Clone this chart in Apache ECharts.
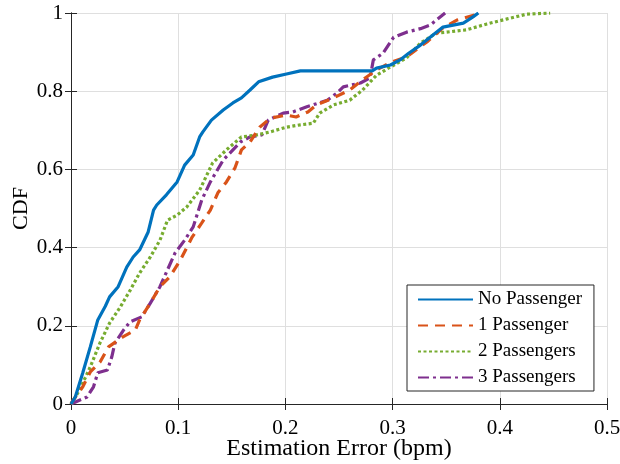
<!DOCTYPE html>
<html><head><meta charset="utf-8">
<script src="https://cdn.jsdelivr.net/npm/echarts@6/dist/echarts.min.js"></script>
<style>html,body{margin:0;padding:0;background:#fff}#c{width:620px;height:464px}</style>
</head><body><div id="c"></div>
<script>
const seriesNames = ['No Passenger', '1 Passenger', '2 Passengers', '3 Passengers'];
const xTicks = [0, 0.1, 0.2, 0.3, 0.4, 0.5];
const yTicks = [0, 0.2, 0.4, 0.6, 0.8, 1];

const noPassenger = [
  [0,0],[0.004,0.018],[0.011,0.08],[0.018,0.146],[0.025,0.215],[0.032,0.25],[0.036,0.274],
  [0.044,0.30],[0.052,0.35],[0.058,0.376],[0.064,0.394],[0.072,0.44],[0.077,0.496],[0.08,0.509],
  [0.089,0.535],[0.099,0.568],[0.106,0.611],[0.114,0.637],[0.12,0.683],[0.123,0.696],[0.131,0.726],
  [0.142,0.752],[0.151,0.77],[0.159,0.783],[0.167,0.803],[0.175,0.824],[0.188,0.836],[0.201,0.844],
  [0.214,0.852],[0.281,0.852],[0.285,0.859],[0.298,0.867],[0.307,0.88],[0.315,0.897],[0.326,0.918],
  [0.34,0.949],[0.347,0.964],[0.366,0.974],[0.375,0.99],[0.38,1.0]
];
const onePassenger = [
  [0,0],[0.002,0.01],[0.011,0.044],[0.018,0.082],[0.027,0.107],[0.035,0.146],[0.048,0.171],
  [0.06,0.189],[0.064,0.215],[0.074,0.258],[0.083,0.30],[0.092,0.325],[0.102,0.368],[0.113,0.427],
  [0.122,0.463],[0.13,0.496],[0.137,0.54],[0.145,0.568],[0.153,0.604],[0.159,0.65],[0.167,0.67],
  [0.176,0.708],[0.186,0.731],[0.201,0.739],[0.21,0.734],[0.221,0.747],[0.229,0.765],[0.245,0.783],
  [0.26,0.803],[0.272,0.829],[0.285,0.854],[0.297,0.872],[0.313,0.888],[0.332,0.926],[0.347,0.962],
  [0.36,0.982],[0.379,0.997],[0.38,1.0]
];
const twoPassengers = [
  [0,0],[0.008,0.036],[0.018,0.095],[0.027,0.156],[0.036,0.207],[0.046,0.248],[0.055,0.29],
  [0.064,0.335],[0.074,0.376],[0.083,0.419],[0.09,0.47],[0.099,0.483],[0.108,0.504],[0.12,0.547],
  [0.132,0.616],[0.145,0.65],[0.159,0.683],[0.173,0.688],[0.186,0.696],[0.201,0.708],[0.214,0.714],
  [0.226,0.718],[0.232,0.744],[0.245,0.765],[0.26,0.777],[0.272,0.803],[0.285,0.841],[0.298,0.862],
  [0.313,0.885],[0.326,0.923],[0.341,0.949],[0.35,0.951],[0.369,0.957],[0.388,0.972],[0.407,0.985],
  [0.425,0.997],[0.447,1.0]
];
const threePassengers = [
  [0,0],[0.015,0.018],[0.021,0.044],[0.025,0.08],[0.034,0.087],[0.038,0.12],[0.041,0.156],
  [0.049,0.189],[0.055,0.21],[0.066,0.223],[0.074,0.258],[0.083,0.30],[0.09,0.343],[0.097,0.386],
  [0.106,0.419],[0.114,0.453],[0.122,0.522],[0.13,0.568],[0.142,0.624],[0.158,0.67],[0.167,0.683],
  [0.178,0.688],[0.184,0.726],[0.198,0.744],[0.207,0.747],[0.22,0.76],[0.239,0.777],[0.248,0.795],
  [0.254,0.811],[0.27,0.821],[0.279,0.834],[0.282,0.88],[0.291,0.897],[0.301,0.938],[0.313,0.951],
  [0.326,0.96],[0.335,0.969],[0.349,1.0]
];

const colors = ['#0072BD', '#D95319', '#77AC30', '#7E2F8E'];
const dashes = ['solid', [10, 7], [3, 2.5], [11, 4, 3, 4]];
const dataSets = [noPassenger, onePassenger, twoPassengers, threePassengers];
const font = 'Liberation Serif';

const chart = echarts.init(document.getElementById('c'), null, {renderer: 'canvas'});
const axisLine = {show: true, lineStyle: {color: '#262626', width: 1}};
const tick = {show: true, inside: true, length: 6, lineStyle: {color: '#262626'}};
chart.setOption({
  animation: false,
  color: colors,
  grid: {left: 71, right: 13, top: 13, bottom: 60, show: false, outerBoundsMode: 'none', containLabel: false},
  legend: {
    orient: 'vertical', left: 407, top: 285, width: 187,
    backgroundColor: '#fff', borderColor: '#262626', borderWidth: 1,
    padding: [5, 12, 4, 10], itemWidth: 55, itemHeight: 14, itemGap: 7,
    itemStyle: {opacity: 0},
    textStyle: {fontFamily: font, fontSize: 19, color: '#000'},
    data: seriesNames
  },
  xAxis: [{
    type: 'value', min: 0, max: 0.5, interval: 0.1,
    name: 'Estimation Error (bpm)', nameLocation: 'middle', nameGap: 33, nameMoveOverlap: false,
    nameTextStyle: {fontFamily: font, fontSize: 24, color: '#000'},
    axisLine: axisLine, axisTick: tick,
    axisLabel: {fontFamily: font, fontSize: 21, color: '#000', margin: 14,
      formatter: v => xTicks.includes(+v.toFixed(1)) ? String(+v.toFixed(1)) : ''},
    splitLine: {show: true, lineStyle: {color: '#dfdfdf'}}
  }, {
    type: 'value', position: 'top', min: 0, max: 0.5, interval: 0.1,
    axisLine: axisLine, axisTick: tick, axisLabel: {show: false}, splitLine: {show: false}
  }],
  yAxis: [{
    type: 'value', min: 0, max: 1, interval: 0.2,
    name: 'CDF', nameLocation: 'middle', nameGap: 39, nameMoveOverlap: false,
    nameTextStyle: {fontFamily: font, fontSize: 22, color: '#000'},
    axisLine: axisLine, axisTick: tick,
    axisLabel: {fontFamily: font, fontSize: 21, color: '#000', margin: 8,
      formatter: v => yTicks.includes(+v.toFixed(1)) ? String(+v.toFixed(1)) : ''},
    splitLine: {show: true, lineStyle: {color: '#dfdfdf'}}
  }, {
    type: 'value', position: 'right', min: 0, max: 1, interval: 0.2,
    axisLine: axisLine, axisTick: tick, axisLabel: {show: false}, splitLine: {show: false}
  }],
  series: seriesNames.map((n, i) => ({
    name: n, type: 'line', data: dataSets[i], showSymbol: false, symbol: 'none',
    lineStyle: {color: colors[i], width: 3.2, type: dashes[i]},
    itemStyle: {color: colors[i]},
    z: 10 - i
  }))
});
</script></body></html>
